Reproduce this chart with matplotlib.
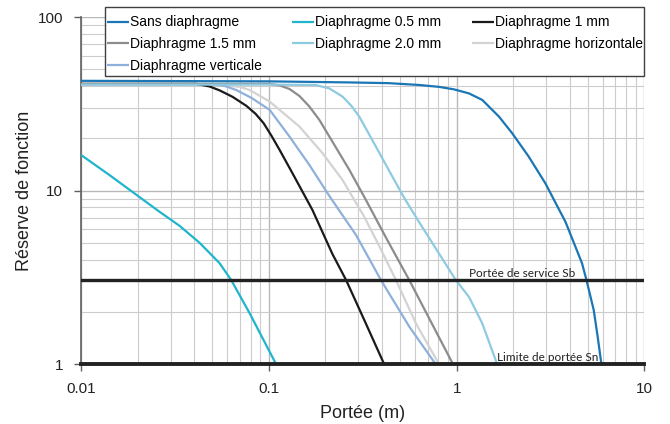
import matplotlib
matplotlib.use('Agg')
import matplotlib.pyplot as plt
from matplotlib.patches import Rectangle

plt.rcParams['font.family'] = ['Liberation Sans', 'DejaVu Sans']

# curves (x = portee in m, y = reserve de fonction)
sans_x = [0.01, 0.1, 0.268, 0.435, 0.631, 0.806, 0.969, 1.164, 1.369, 1.68, 1.976, 2.42, 2.97, 3.8, 4.65, 4.91, 5.37, 5.635, 5.9]
sans_y = [42.9, 42.6, 42.0, 41.6, 40.6, 39.6, 38.3, 36.3, 33.3, 26.7, 21.4, 15.7, 11.0, 6.6, 3.82, 3.06, 2.05, 1.44, 1.0]

d05_x = [0.01, 0.01426, 0.01976, 0.02627, 0.03356, 0.04285, 0.0547, 0.063, 0.079, 0.1094]
d05_y = [16.06, 12.24, 9.45, 7.54, 6.26, 5.0, 3.82, 3.06, 1.97, 1.0]

d1_x = [0.01, 0.03, 0.0412, 0.0484, 0.0547, 0.0641, 0.0759, 0.085, 0.0937, 0.1033, 0.114, 0.1336, 0.1707, 0.218, 0.2577, 0.326, 0.4115]
d1_y = [41.2, 41.2, 41.2, 39.8, 37.8, 34.7, 30.8, 27.7, 24.5, 20.7, 17.2, 12.6, 7.74, 4.32, 3.06, 1.75, 1.0]

d15_x = [0.01, 0.05, 0.1009, 0.114, 0.1288, 0.1455, 0.1644, 0.186, 0.21, 0.268, 0.329, 0.427, 0.559, 0.731, 0.957]
d15_y = [41.2, 41.2, 41.2, 40.4, 38.5, 35.1, 30.5, 25.5, 20.5, 13.2, 8.83, 5.2, 3.06, 1.75, 1.0]

d20_x = [0.01, 0.1, 0.177, 0.21, 0.247, 0.275, 0.303, 0.372, 0.4556, 0.526, 0.616, 0.777, 0.989, 1.164, 1.369, 1.644]
d20_y = [40.8, 40.8, 40.6, 38.8, 34.8, 30.8, 26.7, 17.9, 12.0, 9.08, 6.87, 4.62, 3.06, 2.44, 1.72, 1.0]

horiz_x = [0.01, 0.04, 0.0547, 0.0699, 0.079, 0.101, 0.1455, 0.1935, 0.247, 0.322, 0.387, 0.475, 0.607, 0.806]
horiz_y = [40.8, 40.8, 40.6, 39.6, 38.0, 32.6, 23.4, 16.4, 11.5, 7.08, 4.8, 3.06, 1.72, 1.0]

vert_x = [0.01, 0.04, 0.0502, 0.0582, 0.067, 0.0809, 0.101, 0.1288, 0.1644, 0.21, 0.291, 0.395, 0.559, 0.774]
vert_y = [41.0, 41.0, 41.0, 40.1, 38.0, 34.2, 29.2, 20.5, 14.06, 9.32, 5.56, 3.06, 1.65, 1.0]

sb = 3.05
sn = 1.0

x_ticks = [0.01, 0.1, 1, 10]
x_labels = ['0.01', '0.1', '1', '10']
y_ticks = [1, 10, 100]
y_labels = ['1', '10', '100']

fig = plt.figure(figsize=(6.7, 4.24), dpi=100)
ax = fig.add_axes([0.1209, 0.1408, 0.8410, 0.8191])

style = dict(lw=1.6, solid_joinstyle='round', solid_capstyle='butt')
l_sans, = ax.plot(sans_x, sans_y, color='#1a76b5', label='Sans diaphragme', zorder=5, **style)
l_05, = ax.plot(d05_x, d05_y, color='#1fb5cc', label='Diaphragme 0.5 mm', zorder=4, **style)
l_1, = ax.plot(d1_x, d1_y, color='#1a1a1a', label='Diaphragme 1 mm', zorder=4, **style)
l_15, = ax.plot(d15_x, d15_y, color='#8c8c8c', label='Diaphragme 1.5 mm', zorder=4, **style)
l_20, = ax.plot(d20_x, d20_y, color='#8ecae0', label='Diaphragme 2.0 mm', zorder=4, **style)
l_h, = ax.plot(horiz_x, horiz_y, color='#d3d3d3', label='Diaphragme horizontale', zorder=3, **style)
l_v, = ax.plot(vert_x, vert_y, color='#8fb0db', label='Diaphragme verticale', zorder=3, **style)

ax.axhline(sb, color='#222222', lw=2.4, zorder=6)
ax.axhline(sn, color='#222222', lw=2.8, zorder=6, clip_on=False)

ax.text(1.163, 3.17, 'Portée de service Sb', family='Lato', fontsize=8.5,
        color='#222222', ha='left', va='baseline', zorder=7)
ax.text(1.645, 1.045, 'Limite de portée Sn', family='Lato', fontsize=8.5,
        color='#222222', ha='left', va='baseline', zorder=7)

ax.set_xscale('log')
ax.set_yscale('log')
ax.set_xlim(0.01, 10)
ax.set_ylim(1, 100)
ax.set_xticks(x_ticks, x_labels)
ax.set_yticks(y_ticks, y_labels)

ax.grid(which='minor', color='#cccccc', lw=0.8)
ax.grid(which='major', color='#b8b8b8', lw=1.0)
ax.set_axisbelow(True)

for s in ['top', 'right', 'bottom']:
    ax.spines[s].set_visible(False)
ax.spines['left'].set_color('#606060')
ax.spines['left'].set_linewidth(1.2)

ax.tick_params(which='major', direction='out', length=5, width=1,
               color='#606060', pad=8, labelsize=11, labelcolor='#222222')
ax.tick_params(which='minor', length=0)

ax.set_xlabel('Portée (m)', fontsize=13, color='#222222', labelpad=6)
ax.set_ylabel('Réserve de fonction', fontsize=13, color='#222222', labelpad=3)

# legend frame drawn by hand so the rows can sit where they do in the original
box = Rectangle((105 / 670, 1 - 76 / 424), 539 / 670, 69 / 424, transform=fig.transFigure,
                facecolor='white', edgecolor='#404040', lw=1.0, zorder=9)
fig.patches.append(box)

# legend is filled column by column, so order handles to read row by row
handles = [l_sans, l_15, l_v, l_05, l_20, l_1, l_h]
leg = fig.legend(handles=handles, labels=[h.get_label() for h in handles],
                 loc='lower left', ncol=3, mode='expand',
                 bbox_to_anchor=(104.2 / 670, 1 - 75.5 / 424, 541.3 / 670, 68 / 424),
                 borderaxespad=0, fontsize=10, handlelength=1.6, handletextpad=0.05,
                 labelspacing=0.55, borderpad=0.2, frameon=False)
leg.set_zorder(10)

fig.savefig('out.png', dpi=100)
